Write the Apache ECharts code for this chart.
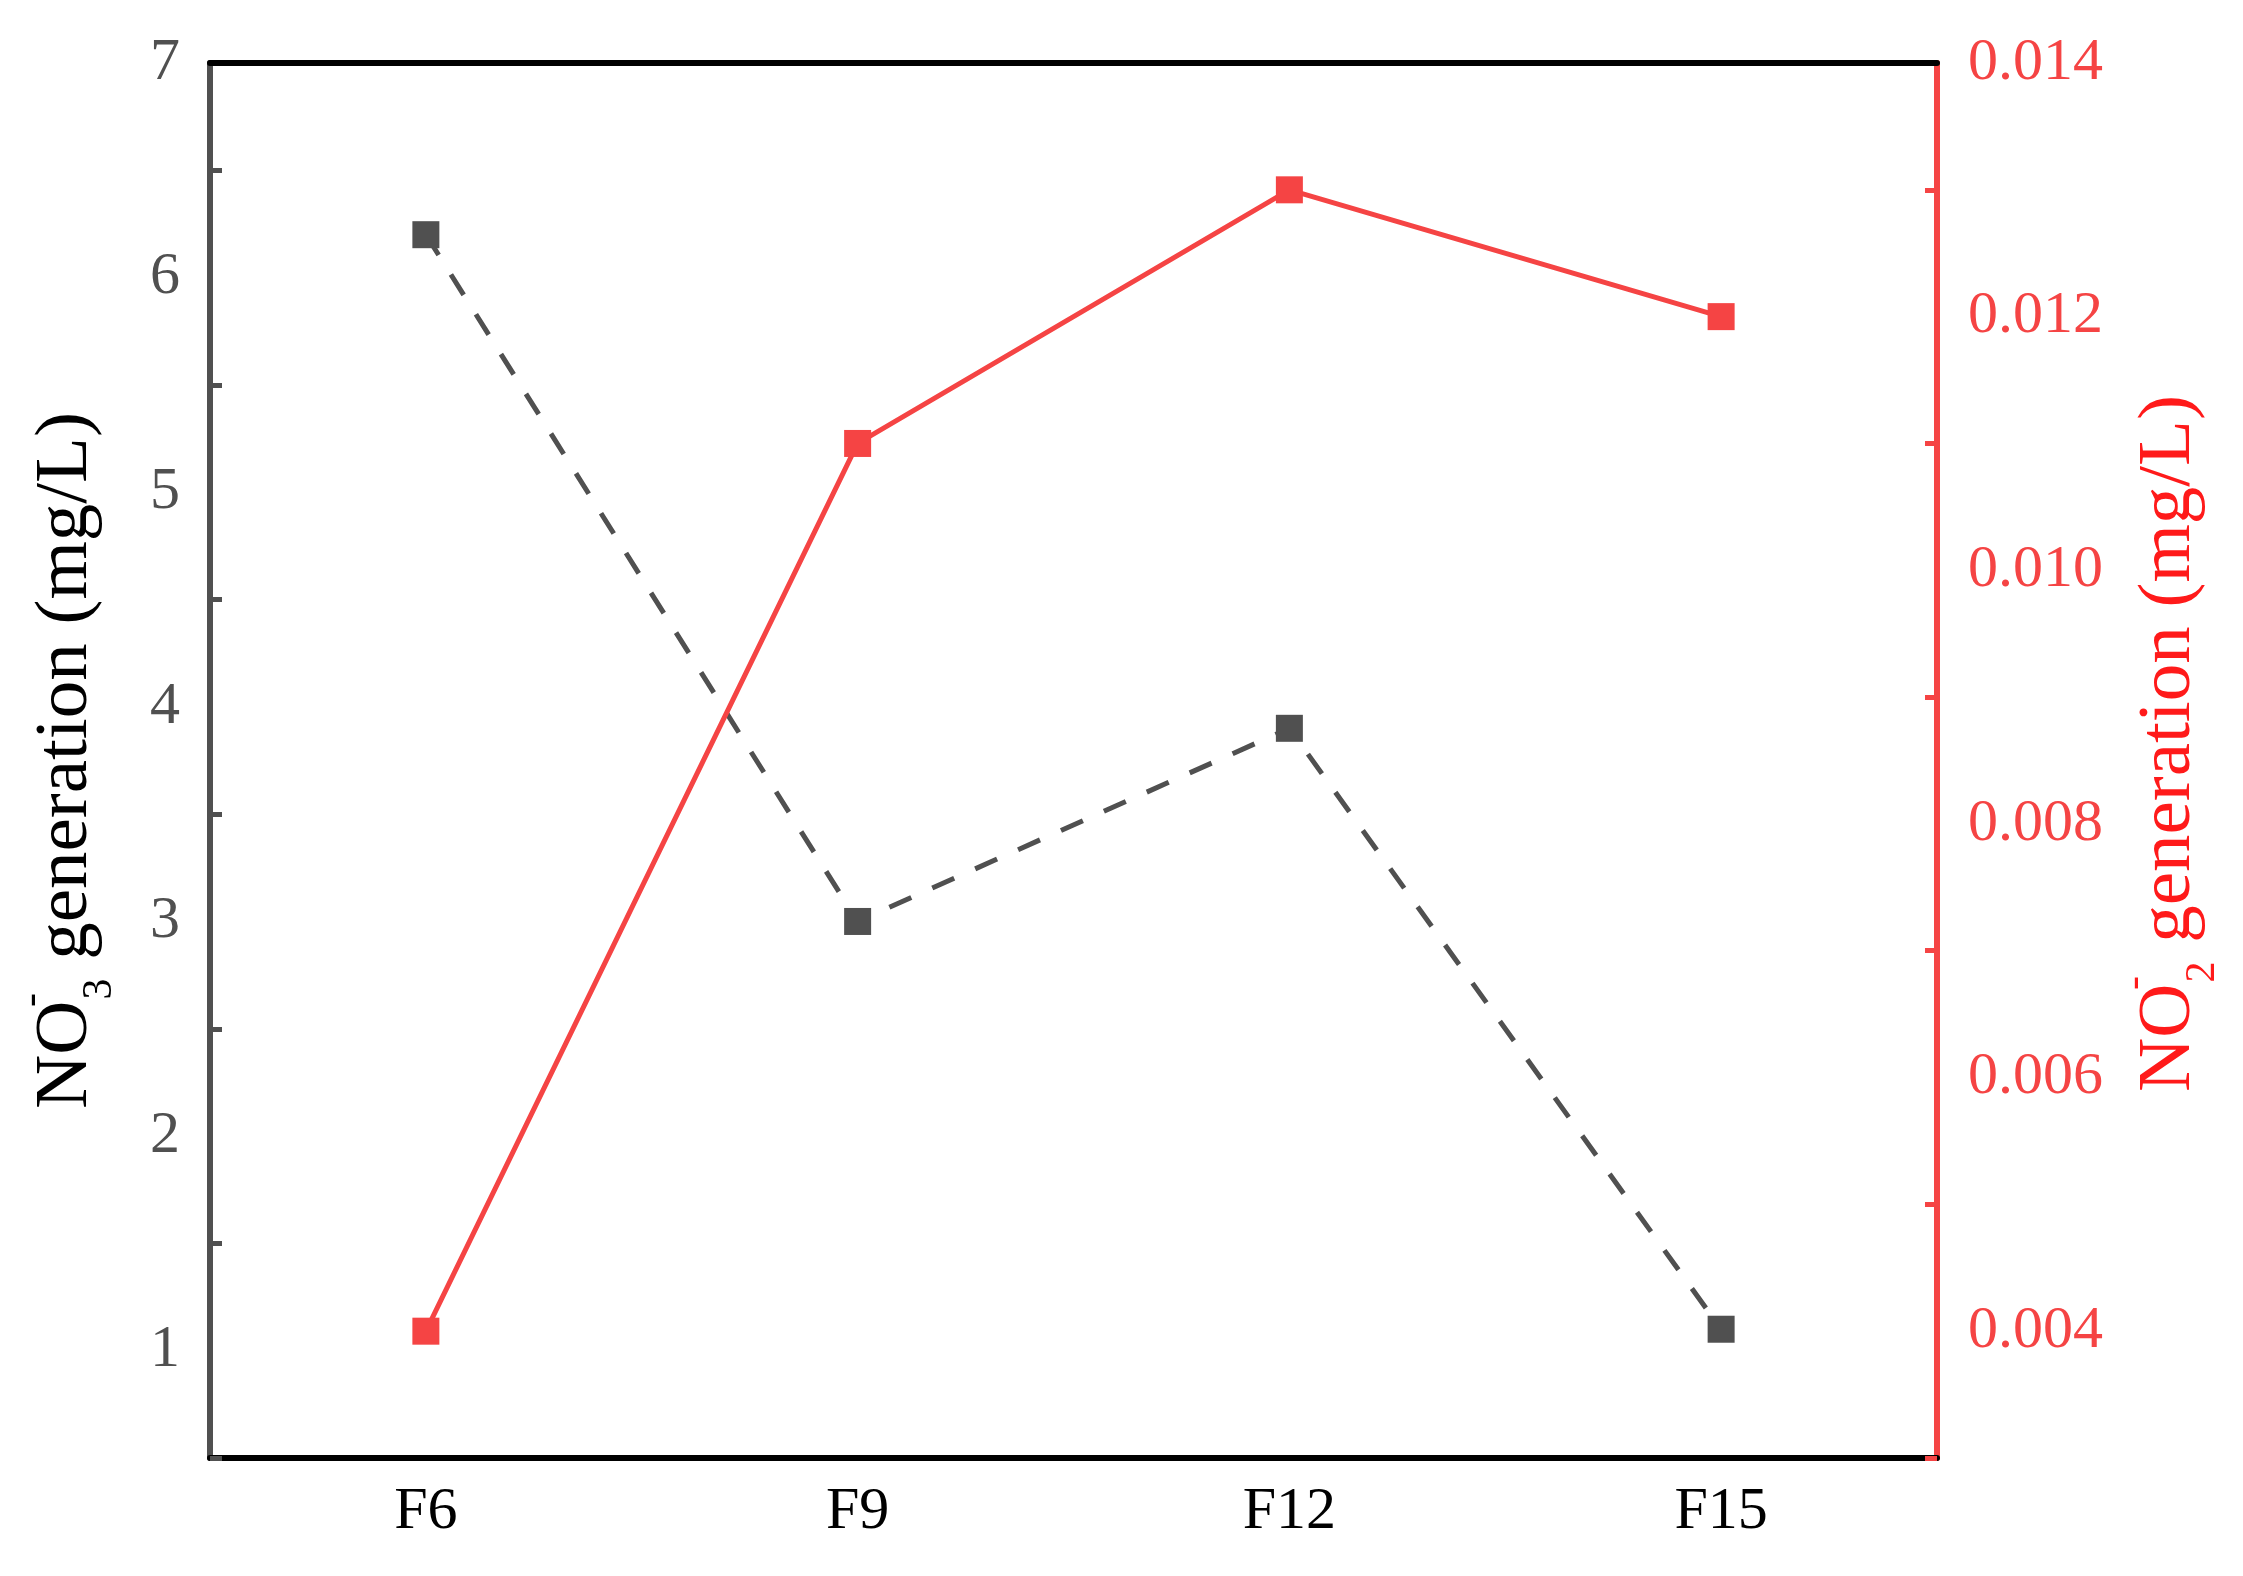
<!DOCTYPE html>
<html>
<head>
<meta charset="utf-8">
<script src="https://cdn.jsdelivr.net/npm/echarts@6/dist/echarts.min.js"></script>
<style>
  html, body { margin: 0; padding: 0; background: #fff; }
  #chart { width: 2243px; height: 1576px; }
</style>
</head>
<body>
<div id="chart"></div>
<script>
// samples along the x axis
const categories = ['F6', 'F9', 'F12', 'F15']
// NO3- generation, left axis (mg/L)
const no3Values = [6.2, 3.0, 3.9, 1.1]
// NO2- generation, right axis (mg/L)
const no2Values = [0.004, 0.011, 0.013, 0.012]

// tick values
const leftMajor = [1, 2, 3, 4, 5, 6, 7]
const leftMinor = [0.5, 1.5, 2.5, 3.5, 4.5, 5.5, 6.5]
const rightMajor = [0.004, 0.006, 0.008, 0.010, 0.012, 0.014]
const rightMinor = [0.003, 0.005, 0.007, 0.009, 0.011, 0.013]

const FONT = 'Liberation Serif'
const GRAY = '#505050'
const RED = '#f54444'

const titleRich = (color) => ({
  t: { fontFamily: FONT, fontSize: 75, color, lineHeight: 110, verticalAlign: 'middle' },
  sup: { fontFamily: FONT, fontSize: 42, color, lineHeight: 70, verticalAlign: 'top', width: 1 },
  sub: { fontFamily: FONT, fontSize: 42, color, lineHeight: 32, verticalAlign: 'bottom' },
})

const chart = echarts.init(document.getElementById('chart'))

chart.setOption({
  animation: false,
  backgroundColor: '#fff',
  grid: { left: 210, right: 306, top: 63, bottom: 118, containLabel: false },
  xAxis: [
    {
      type: 'category',
      data: categories,
      boundaryGap: true,
      axisLine: { lineStyle: { color: '#000', width: 6 } },
      axisTick: { inside: true, alignWithLabel: true, length: 25, lineStyle: { color: '#000', width: 5 } },
      axisLabel: { fontFamily: FONT, fontSize: 60, color: '#000', margin: 24 },
      splitLine: { show: false },
    },
    {
      type: 'category',
      position: 'top',
      data: categories,
      axisLine: { lineStyle: { color: '#000', width: 6 } },
      axisTick: { show: false },
      axisLabel: { show: false },
      splitLine: { show: false },
    },
  ],
  yAxis: [
    {
      type: 'value',
      position: 'left',
      min: 0.5,
      max: 7,
      name: '{t|NO}{sup|-}{sub|3}{t| generation (mg/L)}',
      nameLocation: 'middle',
      nameRotate: 90,
      nameGap: 89,
      nameTextStyle: { rich: titleRich('#000') },
      axisLine: { show: true, lineStyle: { color: GRAY, width: 6 } },
      axisTick: { inside: true, length: 24, customValues: leftMajor, lineStyle: { color: GRAY, width: 5 } },
      axisLabel: { customValues: leftMajor, fontFamily: FONT, fontSize: 60, color: GRAY, margin: 30 },
      splitLine: { show: false },
    },
    {
      type: 'value',
      position: 'left',
      min: 0.5,
      max: 7,
      axisLine: { show: false },
      axisTick: { show: true, inside: true, length: 12, customValues: leftMinor, lineStyle: { color: GRAY, width: 5 } },
      axisLabel: { show: false },
      splitLine: { show: false },
    },
    {
      type: 'value',
      position: 'right',
      min: 0.003,
      max: 0.014,
      name: '{t|NO}{sup|-}{sub|2}{t| generation (mg/L)}',
      nameLocation: 'middle',
      nameRotate: 90,
      nameGap: 171,
      nameTextStyle: { rich: titleRich('#ff1a1a'), padding: [0, 0, 0, 34] },
      axisLine: { show: true, lineStyle: { color: RED, width: 6 } },
      axisTick: { inside: true, length: 25, customValues: rightMajor, lineStyle: { color: RED, width: 5 } },
      axisLabel: {
        customValues: rightMajor,
        fontFamily: FONT,
        fontSize: 60,
        color: RED,
        margin: 31,
        formatter: (v) => v.toFixed(3),
      },
      splitLine: { show: false },
    },
    {
      type: 'value',
      position: 'right',
      min: 0.003,
      max: 0.014,
      axisLine: { show: false },
      axisTick: { show: true, inside: true, length: 12, customValues: rightMinor, lineStyle: { color: RED, width: 5 } },
      axisLabel: { show: false },
      splitLine: { show: false },
    },
  ],
  series: [
    {
      name: 'NO3',
      type: 'line',
      xAxisIndex: 0,
      yAxisIndex: 0,
      data: no3Values,
      symbol: 'rect',
      symbolSize: 27,
      itemStyle: { color: GRAY },
      lineStyle: { color: GRAY, width: 5, type: [24, 23] },
      z: 3,
    },
    {
      name: 'NO2',
      type: 'line',
      xAxisIndex: 0,
      yAxisIndex: 2,
      data: no2Values,
      symbol: 'rect',
      symbolSize: 27,
      itemStyle: { color: RED },
      lineStyle: { color: RED, width: 5 },
      z: 4,
    },
  ],
})
</script>
</body>
</html>
